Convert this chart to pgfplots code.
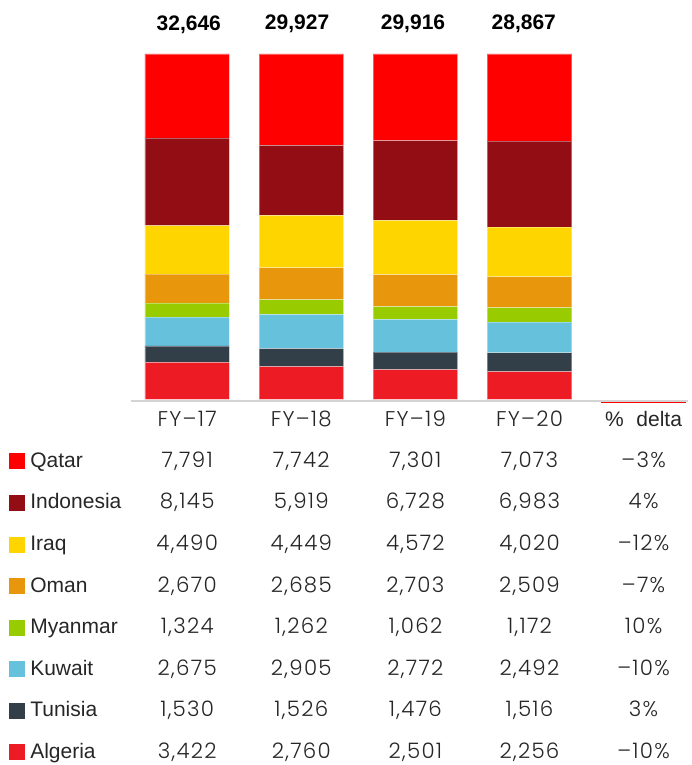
\documentclass[border=0pt]{standalone}
\usepackage{pgfplots}
\pgfplotsset{compat=1.18}
\usepackage{pgfplotstable}
\usepackage{fontspec}
\setmainfont{Liberation Sans}
\IfFontExistsTF{Poppins Light}{\newfontfamily\numfont[LetterSpace=6]{Poppins Light}}{\newfontfamily\numfont[LetterSpace=6]{Poppins}}

\definecolor{cQatar}{HTML}{FF0000}
\definecolor{cIndonesia}{HTML}{930D14}
\definecolor{cIraq}{HTML}{FFD500}
\definecolor{cOman}{HTML}{E8960B}
\definecolor{cMyanmar}{HTML}{99CC00}
\definecolor{cKuwait}{HTML}{66C2DC}
\definecolor{cTunisia}{HTML}{333F48}
\definecolor{cAlgeria}{HTML}{ED1C24}
\definecolor{axisgray}{HTML}{D4D4D4}

% values by year (x = 0..3 for FY-17..FY-20); Sum = sum of the shown countries
\pgfplotstableread{
x Qatar Indonesia Iraq Oman Myanmar Kuwait Tunisia Algeria Sum
0 7791 8145 4490 2670 1324 2675 1530 3422 32047
1 7742 5919 4449 2685 1262 2905 1526 2760 29248
2 7301 6728 4572 2703 1062 2772 1476 2501 29115
3 7073 6983 4020 2509 1172 2492 1516 2256 28021
}\datatable

\newcommand{\tabfont}{\numfont\fontsize{16}{18}\selectfont}
\newcommand{\labfont}{\fontsize{15.75}{18}\selectfont}

\pgfplotsset{
  txt/.style={only marks, mark=none, nodes near coords, point meta=explicit symbolic,
    every node near coord/.append style={anchor=base, inner sep=0pt, text=black!85, font=#1}},
}

\begin{document}
\begin{tikzpicture}
\useasboundingbox (0,0) rectangle (519pt,-573.75pt);

% ---------------- stacked (normalised) bars ----------------
\begin{axis}[
  at={(0pt,-299.475pt)}, anchor=south west,
  scale only axis, width=519pt, height=258.98pt,
  xmin=-1.6407, xmax=4.4242, ymin=0, ymax=1,
  ybar stacked, bar width=0.741,
  hide axis, clip=false,
  every axis plot/.append style={draw=white, draw opacity=0.35, line width=0.5pt},
]
\addplot[fill=cAlgeria]   table[x=x, y expr=\thisrow{Algeria}/\thisrow{Sum}] {\datatable};
\addplot[fill=cTunisia]   table[x=x, y expr=\thisrow{Tunisia}/\thisrow{Sum}] {\datatable};
\addplot[fill=cKuwait]    table[x=x, y expr=\thisrow{Kuwait}/\thisrow{Sum}] {\datatable};
\addplot[fill=cMyanmar]   table[x=x, y expr=\thisrow{Myanmar}/\thisrow{Sum}] {\datatable};
\addplot[fill=cOman]      table[x=x, y expr=\thisrow{Oman}/\thisrow{Sum}] {\datatable};
\addplot[fill=cIraq]      table[x=x, y expr=\thisrow{Iraq}/\thisrow{Sum}] {\datatable};
\addplot[fill=cIndonesia] table[x=x, y expr=\thisrow{Indonesia}/\thisrow{Sum}] {\datatable};
\addplot[fill=cQatar]     table[x=x, y expr=\thisrow{Qatar}/\thisrow{Sum}] {\datatable};
\end{axis}

% ---------------- layout axis: totals, labels, table ----------------
\begin{axis}[
  at={(0pt,0pt)}, anchor=north west,
  scale only axis, width=519pt, height=573.75pt,
  xmin=-1.6407, xmax=4.4242, ymin=0, ymax=765, y dir=reverse,
  hide axis, clip=false,
]
% base lines
\addplot[axisgray, line width=1.5pt, mark=none] coordinates {(-0.495,400.7) (4.389,400.7)};
\addplot[cQatar, line width=1.1pt, mark=none] coordinates {(3.624,402.3) (4.369,402.3)};

% totals
\addplot[txt={\bfseries\fontsize{15.75}{18}\selectfont}, every node near coord/.append style={text=black}]
  coordinates {(0.014,30.5) [{32,646}] (0.963,29.8) [{29,927}] (1.979,29.0) [{29,916}] (2.950,29.5) [{28,867}]};

% category labels
\addplot[txt=\tabfont]
  coordinates {(0,426) [FY–17] (1,426) [FY–18] (2,426) [FY–19] (3,426) [FY–20]};
\addplot[txt=\labfont]
  coordinates {(4,426) [{\%\hspace{0.6em}delta}]};

% legend squares
\addplot[only marks, mark=square*, mark size=5.6pt, color=cQatar]     coordinates {(-1.496,461.2)};
\addplot[only marks, mark=square*, mark size=5.6pt, color=cIndonesia] coordinates {(-1.496,502.8)};
\addplot[only marks, mark=square*, mark size=5.6pt, color=cIraq]      coordinates {(-1.496,544.3)};
\addplot[only marks, mark=square*, mark size=5.6pt, color=cOman]      coordinates {(-1.496,585.9)};
\addplot[only marks, mark=square*, mark size=5.6pt, color=cMyanmar]   coordinates {(-1.496,627.5)};
\addplot[only marks, mark=square*, mark size=5.6pt, color=cKuwait]    coordinates {(-1.496,669.1)};
\addplot[only marks, mark=square*, mark size=5.6pt, color=cTunisia]   coordinates {(-1.496,710.6)};
\addplot[only marks, mark=square*, mark size=5.6pt, color=cAlgeria]   coordinates {(-1.496,752.2)};

% country names
\addplot[txt=\labfont, every node near coord/.append style={anchor=base west}]
  coordinates {(-1.3775,467.3) [Qatar] (-1.3775,508.9) [Indonesia] (-1.3775,550.4) [Iraq]
               (-1.3775,592.0) [Oman] (-1.3775,633.6) [Myanmar] (-1.3775,675.2) [Kuwait]
               (-1.3775,716.7) [Tunisia] (-1.3775,758.3) [Algeria]};

% FY-17
\addplot[txt=\tabfont]
  coordinates {(0,467.3) [{7,791}] (0,508.9) [{8,145}] (0,550.4) [{4,490}] (0,592.0) [{2,670}]
               (0,633.6) [{1,324}] (0,675.2) [{2,675}] (0,716.7) [{1,530}] (0,758.3) [{3,422}]};
% FY-18
\addplot[txt=\tabfont]
  coordinates {(1,467.3) [{7,742}] (1,508.9) [{5,919}] (1,550.4) [{4,449}] (1,592.0) [{2,685}]
               (1,633.6) [{1,262}] (1,675.2) [{2,905}] (1,716.7) [{1,526}] (1,758.3) [{2,760}]};
% FY-19
\addplot[txt=\tabfont]
  coordinates {(2,467.3) [{7,301}] (2,508.9) [{6,728}] (2,550.4) [{4,572}] (2,592.0) [{2,703}]
               (2,633.6) [{1,062}] (2,675.2) [{2,772}] (2,716.7) [{1,476}] (2,758.3) [{2,501}]};
% FY-20
\addplot[txt=\tabfont]
  coordinates {(3,467.3) [{7,073}] (3,508.9) [{6,983}] (3,550.4) [{4,020}] (3,592.0) [{2,509}]
               (3,633.6) [{1,172}] (3,675.2) [{2,492}] (3,716.7) [{1,516}] (3,758.3) [{2,256}]};
% % delta
\addplot[txt=\tabfont]
  coordinates {(4,467.3) [{–3\%}] (4,508.9) [{4\%}] (4,550.4) [{–12\%}] (4,592.0) [{–7\%}]
               (4,633.6) [{10\%}] (4,675.2) [{–10\%}] (4,716.7) [{3\%}] (4,758.3) [{–10\%}]};
\end{axis}
\end{tikzpicture}
\end{document}
